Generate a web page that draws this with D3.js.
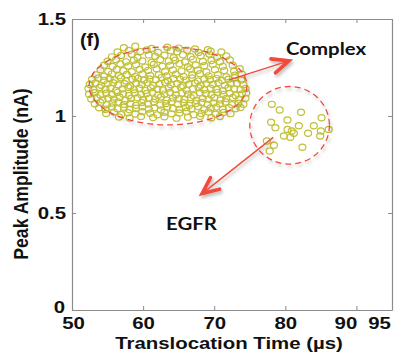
<!DOCTYPE html>
<html>
<head>
<meta charset="utf-8">
<script src="https://cdn.jsdelivr.net/npm/d3@7"></script>
<style>
  html, body { margin: 0; padding: 0; background: #fff; }
  svg { display: block; }
</style>
</head>
<body>
<svg id="chart" width="404" height="354"></svg>
<script>
// ---- data -------------------------------------------------------------
// Complex events: [translocation time (µs), peak amplitude (nA)]
const complexPoints = [
  [57.3,1.352],[58.9,1.360],[61.2,1.348],[63.4,1.355],[65.0,1.350],[67.3,1.346],[69.1,1.342],
  [56.4,1.330],[58.0,1.338],[59.6,1.332],[60.5,1.340],[62.1,1.328],[63.9,1.336],[64.8,1.331],[66.2,1.339],[67.8,1.327],[69.5,1.334],[71.0,1.330],
  [55.6,1.305],[56.9,1.312],[58.4,1.318],[59.2,1.302],[60.8,1.315],[61.7,1.308],[63.0,1.313],[64.3,1.300],[65.6,1.316],[66.7,1.306],[68.1,1.311],[69.3,1.319],[70.4,1.303],[71.7,1.309],
  [55.0,1.282],[56.2,1.290],[57.6,1.279],[58.7,1.288],[59.9,1.284],[61.2,1.276],[62.4,1.291],[63.6,1.283],[64.5,1.287],[65.9,1.278],[67.0,1.292],[68.4,1.281],[69.6,1.286],[70.8,1.280],[72.2,1.289],
  [54.5,1.262],[55.7,1.255],[56.8,1.268],[57.9,1.258],[59.0,1.264],[60.3,1.252],[61.5,1.266],[62.7,1.257],[63.8,1.261],[65.1,1.269],[66.3,1.254],[67.4,1.263],[68.6,1.259],[69.8,1.267],[71.2,1.256],[72.6,1.262],
  [54.0,1.238],[55.1,1.230],[56.3,1.241],[57.2,1.233],[58.4,1.228],[59.5,1.240],[60.7,1.235],[61.9,1.243],[63.1,1.229],[64.2,1.237],[65.4,1.232],[66.6,1.242],[67.7,1.236],[68.9,1.227],[70.1,1.239],[71.4,1.234],[72.8,1.231],[73.6,1.244],
  [53.4,1.212],[54.5,1.205],[55.6,1.216],[56.6,1.208],[57.7,1.214],[58.9,1.203],[59.9,1.217],[61.0,1.209],[62.2,1.213],[63.3,1.206],[64.6,1.215],[65.7,1.204],[66.9,1.211],[68.0,1.218],[69.2,1.207],[70.5,1.213],[71.7,1.202],[72.9,1.210],[73.9,1.215],
  [52.8,1.188],[53.7,1.195],[54.5,1.183],[55.3,1.192],[56.0,1.186],[56.9,1.197],[57.6,1.181],[58.5,1.190],[59.3,1.194],[60.1,1.184],[60.9,1.191],[61.8,1.187],[62.6,1.198],[63.5,1.182],[64.3,1.193],[65.2,1.189],[66.0,1.185],[66.9,1.196],[67.7,1.180],[68.6,1.191],[69.4,1.187],[70.3,1.194],[71.1,1.183],[72.0,1.190],[72.9,1.197],[73.8,1.186],
  [52.5,1.163],[53.3,1.170],[54.1,1.158],[55.0,1.167],[55.8,1.172],[56.5,1.160],[57.4,1.166],[58.2,1.155],[59.0,1.169],[59.8,1.162],[60.6,1.171],[61.4,1.157],[62.3,1.165],[63.1,1.173],[63.9,1.161],[64.8,1.168],[65.6,1.156],[66.4,1.164],[67.3,1.170],[68.1,1.159],[68.9,1.167],[69.8,1.162],[70.6,1.172],[71.5,1.158],[72.3,1.166],[73.2,1.169],[74.1,1.161],
  [52.3,1.142],[53.0,1.135],[53.9,1.147],[54.7,1.138],[55.4,1.145],[56.2,1.132],[57.1,1.140],[57.9,1.148],[58.7,1.136],[59.5,1.143],[60.3,1.131],[61.1,1.146],[62.0,1.139],[62.8,1.134],[63.6,1.144],[64.5,1.137],[65.3,1.149],[66.1,1.133],[67.0,1.141],[67.8,1.146],[68.6,1.135],[69.5,1.143],[70.3,1.138],[71.2,1.130],[72.0,1.145],[72.8,1.140],[73.7,1.136],[74.4,1.142],
  [52.4,1.112],[53.2,1.120],[54.0,1.108],[54.8,1.117],[55.6,1.110],[56.4,1.122],[57.2,1.114],[58.0,1.106],[58.8,1.119],[59.7,1.111],[60.5,1.116],[61.3,1.123],[62.1,1.107],[63.0,1.113],[63.8,1.121],[64.6,1.109],[65.5,1.118],[66.3,1.112],[67.1,1.105],[68.0,1.120],[68.8,1.115],[69.6,1.108],[70.5,1.122],[71.3,1.111],[72.2,1.117],[73.0,1.106],[73.9,1.114],[74.5,1.119],
  [52.7,1.088],[53.5,1.095],[54.3,1.083],[55.1,1.092],[55.9,1.086],[56.7,1.097],[57.5,1.081],[58.3,1.090],[59.2,1.094],[60.0,1.084],[60.8,1.091],[61.7,1.087],[62.5,1.098],[63.3,1.082],[64.2,1.093],[65.0,1.089],[65.8,1.085],[66.7,1.096],[67.5,1.080],[68.4,1.091],[69.2,1.087],[70.0,1.094],[70.9,1.083],[71.7,1.090],[72.6,1.096],[73.5,1.086],[74.4,1.092],
  [53.2,1.063],[54.0,1.070],[54.9,1.058],[55.7,1.067],[56.5,1.072],[57.3,1.060],[58.2,1.066],[59.0,1.055],[59.8,1.069],[60.7,1.062],[61.5,1.071],[62.4,1.057],[63.2,1.065],[64.0,1.073],[64.9,1.061],[65.7,1.068],[66.5,1.056],[67.4,1.064],[68.2,1.070],[69.1,1.059],[69.9,1.067],[70.8,1.062],[71.6,1.072],[72.5,1.058],[73.4,1.066],[74.1,1.061],
  [53.8,1.042],[54.7,1.035],[55.6,1.047],[56.4,1.038],[57.3,1.045],[58.1,1.032],[59.0,1.040],[59.9,1.048],[60.8,1.036],[61.6,1.043],[62.5,1.031],[63.4,1.046],[64.2,1.039],[65.1,1.034],[66.0,1.044],[66.8,1.037],[67.7,1.049],[68.6,1.033],[69.5,1.041],[70.3,1.046],[71.2,1.035],[72.1,1.043],[73.0,1.038],[73.7,1.044],
  [54.8,1.013],[55.9,1.020],[56.9,1.008],[57.9,1.017],[58.9,1.010],[59.9,1.022],[61.0,1.014],[62.0,1.006],[63.0,1.019],[64.0,1.011],[65.1,1.016],[66.1,1.023],[67.1,1.007],[68.2,1.013],[69.2,1.021],[70.2,1.009],[71.3,1.018],[72.3,1.012],
  [56.6,0.995],[58.1,0.990],[59.7,0.998],[61.4,0.992],[63.0,0.996],[64.7,0.989],[66.3,0.994],[68.0,0.999],[69.6,0.991],[70.8,0.997]
];

// EGFR events: [translocation time (µs), peak amplitude (nA)]
const egfrPoints = [
  [78.1,1.060],[79.2,1.031],[82.2,1.019],[78.0,0.968],[78.6,0.940],[80.3,0.979],
  [81.9,0.950],[85.1,0.991],[84.0,0.950],[80.3,0.931],[80.9,0.923],[81.2,0.911],
  [79.8,0.897],[80.7,0.890],[83.2,0.911],[85.0,0.923],[84.9,0.897],[86.1,0.931],
  [77.4,0.871],[78.4,0.849],[77.8,0.820],[82.4,0.839]
];

const xTicks = [50, 60, 70, 80, 90, 95];
const yTicks = [0, 0.5, 1, 1.5];
const yTickLabels = ["0", "0.5", "1", "1.5"];

// ---- layout -----------------------------------------------------------
const W = 404, H = 354;
const plot = { left: 72, right: 392, top: 19, bottom: 310 };
const stretch = 1.2;          // horizontal text stretch
const axisFont = "'Liberation Sans', Arial, sans-serif";
const noteFont = "Lato, 'Open Sans', sans-serif";
const pointColor = "#c0c03a";
const noteRed = "#f2483a";
const frameColor = "#8c8c8c";

const svg = d3.select("#chart");
svg.append("rect").attr("width", W).attr("height", H).attr("fill", "#fff");

const x = d3.scaleLinear().domain([50, 95]).range([plot.left, plot.right]);
const y = d3.scaleLinear().domain([0, 1.5]).range([plot.bottom, plot.top]);

// soft drop shadow used by the hand-drawn annotations
const defs = svg.append("defs");
const shadow = defs.append("filter").attr("id", "noteShadow")
  .attr("x", "-20%").attr("y", "-20%").attr("width", "140%").attr("height", "140%");
shadow.append("feDropShadow")
  .attr("dx", 1.5).attr("dy", 2.5).attr("stdDeviation", 1.8)
  .attr("flood-color", "#000").attr("flood-opacity", 0.26);

// ---- axes -------------------------------------------------------------
function styleAxis(g) {
  g.selectAll(".domain").attr("stroke", frameColor).attr("stroke-width", 1.2);
  g.selectAll(".tick line").attr("stroke", frameColor).attr("stroke-width", 1);
}

// label nudges where the corner labels crowd together
const xLabelShift = { 50: 1, 90: -11, 95: -13 };
const yLabelShift = { 0: [-1, -3] };

const gx = svg.append("g").attr("transform", `translate(0,${plot.bottom})`)
  .call(d3.axisBottom(x).tickValues(xTicks).tickSizeInner(-4).tickSizeOuter(0).tickPadding(7));
styleAxis(gx);
gx.selectAll(".tick text")
  .attr("font-family", axisFont).attr("font-weight", "bold").attr("font-size", 17)
  .attr("fill", "#111")
  .attr("transform", d => `translate(${xLabelShift[d] || 0},0) scale(${stretch},1)`);

const gxTop = svg.append("g").attr("transform", `translate(0,${plot.top})`)
  .call(d3.axisTop(x).tickValues(xTicks).tickSizeInner(-4).tickSizeOuter(0).tickFormat(""));
styleAxis(gxTop);

const gy = svg.append("g").attr("transform", `translate(${plot.left},0)`)
  .call(d3.axisLeft(y).tickValues(yTicks).tickSizeInner(-4).tickSizeOuter(0).tickPadding(5)
    .tickFormat((d, i) => yTickLabels[i]));
styleAxis(gy);
gy.selectAll(".tick text")
  .attr("font-family", axisFont).attr("font-weight", "bold").attr("font-size", 17)
  .attr("fill", "#111")
  .attr("transform", d => {
    const s = yLabelShift[d] || [0, 0];
    return `translate(${s[0]},${s[1]}) scale(${stretch},1)`;
  });

const gyRight = svg.append("g").attr("transform", `translate(${plot.right},0)`)
  .call(d3.axisRight(y).tickValues(yTicks).tickSizeInner(-4).tickSizeOuter(0).tickFormat(""));
styleAxis(gyRight);

// axis titles
svg.append("text")
  .attr("transform", `translate(229,349) scale(${stretch},1)`)
  .attr("text-anchor", "middle")
  .attr("font-family", axisFont).attr("font-weight", "bold").attr("font-size", 17)
  .attr("fill", "#111")
  .text("Translocation Time (µs)");

svg.append("text")
  .attr("transform", `translate(28,174) scale(${stretch},1) rotate(-90)`)
  .attr("text-anchor", "middle")
  .attr("font-family", axisFont).attr("font-weight", "bold").attr("font-size", 17.6)
  .attr("fill", "#111")
  .text("Peak Amplitude (nA)");

// panel tag
svg.append("text")
  .attr("transform", `translate(80,46) scale(1.1,1)`)
  .attr("font-family", axisFont).attr("font-weight", "bold").attr("font-size", 18)
  .attr("fill", "#111")
  .text("(f)");

// ---- scatter ----------------------------------------------------------
function drawPoints(points) {
  svg.append("g")
    .selectAll("ellipse")
    .data(points)
    .join("ellipse")
    .attr("cx", d => x(d[0]))
    .attr("cy", d => y(d[1]))
    .attr("rx", 3.5)
    .attr("ry", 3.1)
    .attr("fill", "none")
    .attr("stroke", pointColor)
    .attr("stroke-width", 1.2);
}
drawPoints(complexPoints);
drawPoints(egfrPoints);

// ---- annotations ------------------------------------------------------
const notes = svg.append("g").attr("filter", "url(#noteShadow)");

// dashed outlines around each population (data units)
const rings = [
  { cx: 63.5, cy: 1.155, rx: 11.1, ry: 0.201 },
  { cx: 80.6, cy: 0.952, rx: 5.6, ry: 0.2 }
];
notes.selectAll("ellipse.ring")
  .data(rings)
  .join("ellipse")
  .attr("class", "ring")
  .attr("cx", d => x(d.cx))
  .attr("cy", d => y(d.cy))
  .attr("rx", d => x(d.cx + d.rx) - x(d.cx))
  .attr("ry", d => y(d.cy - d.ry) - y(d.cy))
  .attr("fill", "none")
  .attr("stroke", noteRed)
  .attr("stroke-width", 1.3)
  .attr("stroke-dasharray", "6,4");

// arrows from each outline toward its label
const arrows = [
  { from: [72.1, 1.186], to: [80.5, 1.284] },
  { from: [78.3, 0.890], to: [68.3, 0.600] }
];
arrows.forEach(a => {
  const x0 = x(a.from[0]), y0 = y(a.from[1]);
  const x1 = x(a.to[0]), y1 = y(a.to[1]);
  const ang = Math.atan2(y0 - y1, x0 - x1);
  const len = 18, spread = 0.42;
  notes.append("line")
    .attr("x1", x0).attr("y1", y0).attr("x2", x1).attr("y2", y1)
    .attr("stroke", noteRed).attr("stroke-width", 1.4);
  const p1 = [x1 + len * Math.cos(ang + spread), y1 + len * Math.sin(ang + spread)];
  const p2 = [x1 + len * Math.cos(ang - spread), y1 + len * Math.sin(ang - spread)];
  notes.append("path")
    .attr("d", `M${p1[0]},${p1[1]}L${x1},${y1}L${p2[0]},${p2[1]}`)
    .attr("fill", "none")
    .attr("stroke", noteRed).attr("stroke-width", 3.6)
    .attr("stroke-linejoin", "miter").attr("stroke-linecap", "round");
});

// population labels
svg.append("text")
  .attr("transform", `translate(286,55) scale(${stretch},1)`)
  .attr("font-family", noteFont).attr("font-weight", "bold").attr("font-size", 17)
  .attr("fill", "#111")
  .text("Complex");

svg.append("text")
  .attr("transform", `translate(166,230) scale(${stretch},1)`)
  .attr("font-family", noteFont).attr("font-weight", "bold").attr("font-size", 17)
  .attr("fill", "#111")
  .text("EGFR");
</script>
</body>
</html>
